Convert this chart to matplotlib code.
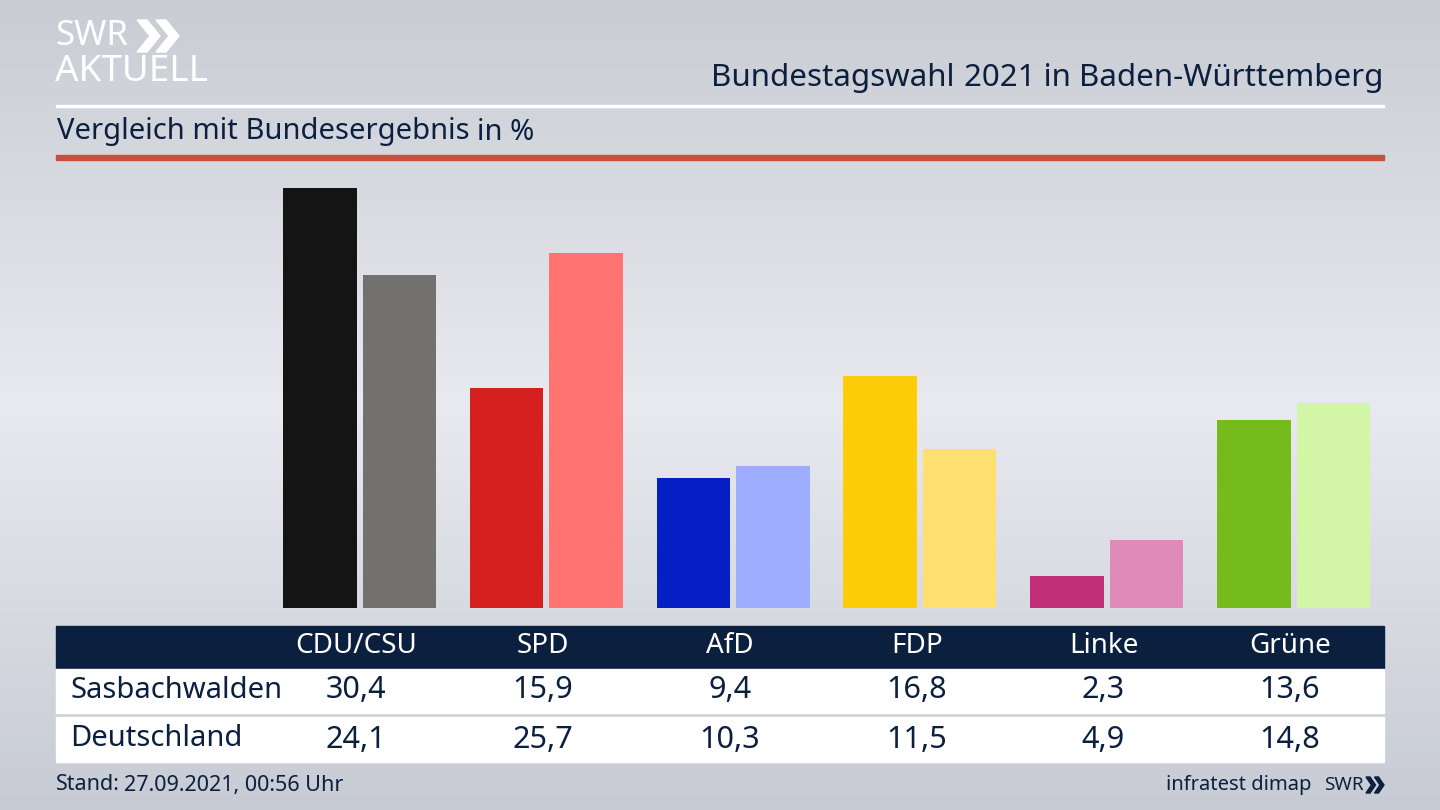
import matplotlib
matplotlib.use("Agg")
import matplotlib.pyplot as plt
import numpy as np
from matplotlib.patches import Rectangle, Polygon

plt.rcParams["font.family"] = ["Noto Sans", "DejaVu Sans"]

parteien = ["CDU/CSU", "SPD", "AfD", "FDP", "Linke", "Grüne"]
sasbachwalden = [30.4, 15.9, 9.4, 16.8, 2.3, 13.6]
deutschland = [24.1, 25.7, 10.3, 11.5, 4.9, 14.8]
labels_sasbach = ["30,4", "15,9", "9,4", "16,8", "2,3", "13,6"]
labels_de = ["24,1", "25,7", "10,3", "11,5", "4,9", "14,8"]
farben_sasbach = ["#141414", "#d61f1f", "#0420c4", "#ffcc0a", "#c02e78", "#74bb1b"]
farben_de = ["#72716f", "#ff7370", "#9eadff", "#ffe06f", "#df8ab8", "#d3f6a6"]

NAVY = "#0b1f3f"

fig = plt.figure(figsize=(14.4, 8.1), dpi=100)

# Hintergrund mit Verlauf
bg = fig.add_axes([0, 0, 1, 1], zorder=0)
stufen = np.array([0.0, 0.5, 1.0])
grau = np.array([[201, 204, 211], [233, 234, 240], [199, 203, 211]]) / 255
yy = np.linspace(0, 1, 256)
verlauf = np.stack([np.interp(yy, stufen, grau[:, i]) for i in range(3)], axis=1)
bg.imshow(verlauf[:, None, :], aspect="auto", extent=[0, 1440, 810, 0])
bg.set_xlim(0, 1440)
bg.set_ylim(810, 0)
bg.axis("off")

# Kopf
bg.add_patch(Rectangle((56, 104.5), 1328, 2.5, color="white"))
bg.add_patch(Rectangle((56, 155), 1328, 5, color="#c84f3c"))
t = bg.text(1383, 78, "2021 in Baden-Württemberg", ha="right", va="center",
            fontsize=22.5, color=NAVY)
fig.canvas.draw()
x0 = t.get_window_extent().x0
bg.text(x0 - 9, 78, "Bundestagswahl", ha="right", va="center", fontsize=22.5,
        fontweight="bold", color=NAVY)
bg.text(57, 132, "Vergleich mit Bundesergebnis", ha="left", va="center",
        fontsize=21, color=NAVY)
bg.text(477, 132, "in %", ha="left", va="center", fontsize=21, color=NAVY)

# Logo oben links
bg.text(55, 36, "SWR", ha="left", va="center", fontsize=25, fontweight="bold",
        color="white")
for dx in (0, 19):
    bg.add_patch(Polygon([(137 + dx, 20), (147 + dx, 20), (160 + dx, 36),
                          (147 + dx, 52), (137 + dx, 52), (150 + dx, 36)],
                         closed=True, color="white"))
bg.text(55, 72, "AKTUELL", ha="left", va="center", fontsize=26.5, fontweight="bold",
        color="white")

# Balken
ax = fig.add_axes([56 / 1440, (810 - 608) / 810, 1328 / 1440, 448 / 810], zorder=1)
x = np.arange(len(parteien))
ax.bar(x - 0.2128, sasbachwalden, width=0.3935, color=farben_sasbach)
ax.bar(x + 0.2128, deutschland, width=0.3935, color=farben_de)
ax.set_xlim(-1.625, 5.484)
ax.set_ylim(0, 32.4)
ax.axis("off")

# Tabelle
bg.add_patch(Rectangle((56, 626), 1328, 42, color=NAVY))
bg.add_patch(Rectangle((56, 669), 1328, 44, color="white"))
bg.add_patch(Rectangle((56, 717), 1328, 45, color="white"))
spalten = [356, 543, 730, 917, 1103.5, 1290]
for sx, p, a, b in zip(spalten, parteien, labels_sasbach, labels_de):
    bg.text(sx, 646, p, ha="center", va="center", fontsize=20, color="white")
    bg.text(sx, 690.5, a, ha="center", va="center", fontsize=22, color=NAVY)
    bg.text(sx, 739.5, b, ha="center", va="center", fontsize=22, color=NAVY)
bg.text(70, 690, "Sasbachwalden", ha="left", va="center", fontsize=21, color=NAVY)
bg.text(70, 739, "Deutschland", ha="left", va="center", fontsize=21, color=NAVY)

# Fusszeile
s = bg.text(56, 785, "Stand:", ha="left", va="center", fontsize=15.5,
            fontweight="bold", color=NAVY)
fig.canvas.draw()
bg.text(s.get_window_extent().x1 + 4, 785, "27.09.2021, 00:56 Uhr", ha="left",
        va="center", fontsize=15.5, color=NAVY)
bg.text(1312, 785, "infratest dimap", ha="right", va="center", fontsize=14.5, color=NAVY)
bg.text(1324, 784.5, "SWR", ha="left", va="center", fontsize=13.5, fontweight="bold",
        color=NAVY)
for dx in (0, 8.5):
    bg.add_patch(Polygon([(1366 + dx, 777), (1370 + dx, 777), (1375.5 + dx, 785),
                          (1370 + dx, 793), (1366 + dx, 793), (1371.5 + dx, 785)],
                         closed=True, color=NAVY))

fig.savefig("out.png", dpi=100)
